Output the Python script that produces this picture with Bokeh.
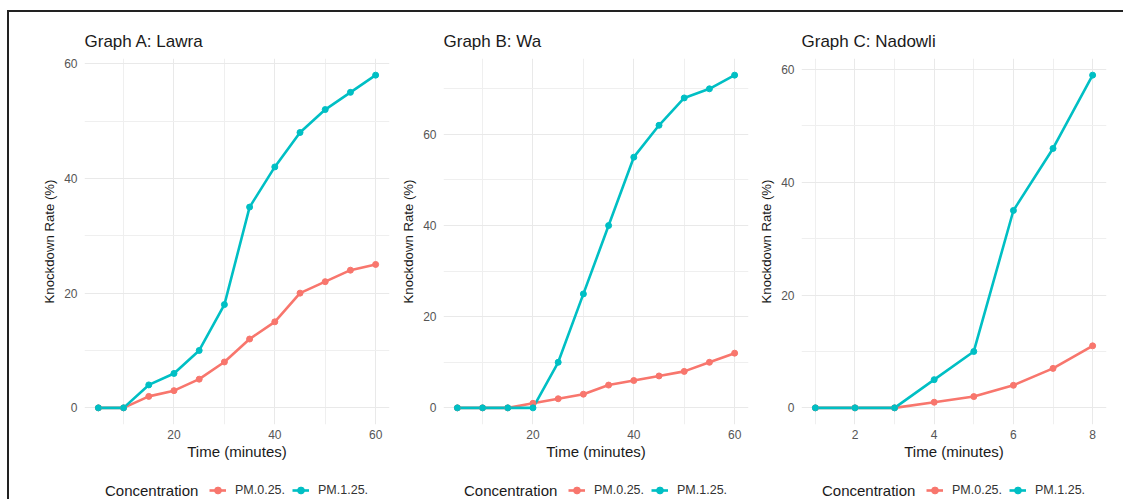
from bokeh.plotting import figure
from bokeh.models import Range1d, FixedTicker, Legend, LegendItem
from bokeh.layouts import row, column
from bokeh.embed import file_html
from bokeh.resources import INLINE

# ---- data ----
time_ab = [5, 10, 15, 20, 25, 30, 35, 40, 45, 50, 55, 60]
lawra_pm025 = [0, 0, 2, 3, 5, 8, 12, 15, 20, 22, 24, 25]
lawra_pm125 = [0, 0, 4, 6, 10, 18, 35, 42, 48, 52, 55, 58]
wa_pm025 = [0, 0, 0, 1, 2, 3, 5, 6, 7, 8, 10, 12]
wa_pm125 = [0, 0, 0, 0, 10, 25, 40, 55, 62, 68, 70, 73]
time_c = [1, 2, 3, 4, 5, 6, 7, 8]
nadowli_pm025 = [0, 0, 0, 1, 2, 4, 7, 11]
nadowli_pm125 = [0, 0, 0, 5, 10, 35, 46, 59]

titles = ["Graph A: Lawra", "Graph B: Wa", "Graph C: Nadowli"]
series_labels = ["PM.0.25.", "PM.1.25."]
legend_title = "Concentration"
x_label = "Time (minutes)"
y_label = "Knockdown Rate (%)"
xticks_ab = [20, 40, 60]
xminor_ab = [10, 30, 50]
xticks_c = [2, 4, 6, 8]
xminor_c = [1, 3, 5, 7]
yticks = [0, 20, 40, 60]
yminor = [10, 30, 50, 70]

RED = "#F8766D"
CYAN = "#00BFC4"
FONT = "Liberation Sans"
FRAME_W = 305
LEG_H = 18


def expand(vals, frac=0.05):
    lo, hi = min(vals), max(vals)
    d = (hi - lo) * frac
    return lo - d, hi + d


def style_legend(lg, size, gw, standoff):
    lg.orientation = "horizontal"
    lg.margin = 0
    lg.padding = 0
    lg.spacing = 7
    lg.glyph_width = gw
    lg.glyph_height = LEG_H
    lg.label_height = LEG_H
    lg.label_standoff = standoff
    lg.label_text_font = FONT
    lg.label_text_font_size = size
    lg.border_line_color = None
    lg.background_fill_alpha = 0


def make_panel(title, xs, y1, y2, xt, xm, bl, br):
    x0, x1 = expand(xs)
    y0, y1r = expand(y1 + y2)
    p = figure(frame_width=FRAME_W, frame_height=366,
               min_border_left=bl, min_border_right=br,
               min_border_top=46, min_border_bottom=57,
               x_range=Range1d(x0, x1), y_range=Range1d(y0, y1r),
               output_backend="svg", toolbar_location=None,
               background_fill_color="white", border_fill_color="white")
    p.outline_line_color = None
    p.title.text = title
    p.title.text_font = FONT
    p.title.text_font_size = "17px"
    p.title.text_font_style = "normal"
    p.title.text_color = "#1a1a1a"
    p.title.align = "left"
    p.title.standoff = 16

    p.xaxis.ticker = FixedTicker(ticks=xt, minor_ticks=xm)
    p.yaxis.ticker = FixedTicker(ticks=yticks, minor_ticks=yminor)
    for ax in (p.xaxis[0], p.yaxis[0]):
        ax.axis_line_color = None
        ax.major_tick_line_color = None
        ax.minor_tick_line_color = None
        ax.major_tick_out = 0
        ax.major_tick_in = 0
        ax.minor_tick_out = 0
        ax.minor_tick_in = 0
        ax.major_label_text_font = FONT
        ax.major_label_text_font_size = "12px"
        ax.major_label_text_color = "#555555"
        ax.axis_label_text_font = FONT
        ax.axis_label_text_font_style = "normal"
        ax.axis_label_text_color = "#1a1a1a"
    p.xaxis.axis_label = x_label
    p.yaxis.axis_label = y_label
    p.xaxis.axis_label_text_font_size = "15px"
    p.yaxis.axis_label_text_font_size = "13.2px"
    p.xaxis.major_label_standoff = 5
    p.xaxis.axis_label_standoff = 1
    p.yaxis.major_label_standoff = 7
    p.yaxis.axis_label_standoff = 4

    for g in (p.xgrid[0], p.ygrid[0]):
        g.grid_line_color = "#e9e9e9"
        g.grid_line_width = 1
        g.minor_grid_line_color = "#efefef"
        g.minor_grid_line_width = 1

    p.line(xs, y1, color=RED, line_width=2.6)
    p.line(xs, y2, color=CYAN, line_width=2.6)
    p.scatter(xs, y1, color=RED, size=6)
    p.scatter(xs, y2, color=CYAN, size=6)

    # legend strip below the panel: its own small figure; its y range lies far
    # below the data, so its series renderers only supply the legend keys
    total_w = bl + FRAME_W + br
    lf = figure(frame_width=total_w, frame_height=LEG_H,
                min_border_left=0, min_border_right=0, min_border_top=0, min_border_bottom=0,
                x_range=Range1d(x0, x1), y_range=Range1d(-1000, -999),
                x_axis_location=None, y_axis_location=None,
                output_backend="svg", toolbar_location=None,
                background_fill_color="white", border_fill_color="white")
    lf.outline_line_color = None
    lf.grid.visible = False
    empty = lf.scatter(x=[], y=[], size=0, fill_alpha=0, line_alpha=0)
    k1l = lf.line(xs, y1, color=RED, line_width=2.6)
    k1s = lf.scatter(xs, y1, color=RED, size=6)
    k2l = lf.line(xs, y2, color=CYAN, line_width=2.6)
    k2s = lf.scatter(xs, y2, color=CYAN, size=6)

    lg_title = Legend(items=[LegendItem(label=legend_title, renderers=[empty])])
    style_legend(lg_title, "15px", 0, 0)
    lg_title.label_text_color = "#1a1a1a"
    lg_title.location = (bl + 21, 0)
    lf.add_layout(lg_title)

    lg = Legend(items=[LegendItem(label=series_labels[0], renderers=[k1l, k1s]),
                       LegendItem(label=series_labels[1], renderers=[k2l, k2s])])
    style_legend(lg, "12.5px", 17, 9)
    lg.label_text_color = "#333333"
    lg.location = (bl + 125, 0)
    lf.add_layout(lg)
    return column(p, lf, spacing=0)


cA = make_panel(titles[0], time_ab, lawra_pm025, lawra_pm125, xticks_ab, xminor_ab, 75, 6)
cB = make_panel(titles[1], time_ab, wa_pm025, wa_pm125, xticks_ab, xminor_ab, 48, 8)
cC = make_panel(titles[2], time_c, nadowli_pm025, nadowli_pm125, xticks_c, xminor_c, 45, 17)

layout = row(cA, cB, cC, spacing=0, margin=(10, 0, 0, 7),
             styles={"border-top": "2px solid #222222", "border-left": "2px solid #222222"})

open("out.html", "w").write(file_html(layout, INLINE))
